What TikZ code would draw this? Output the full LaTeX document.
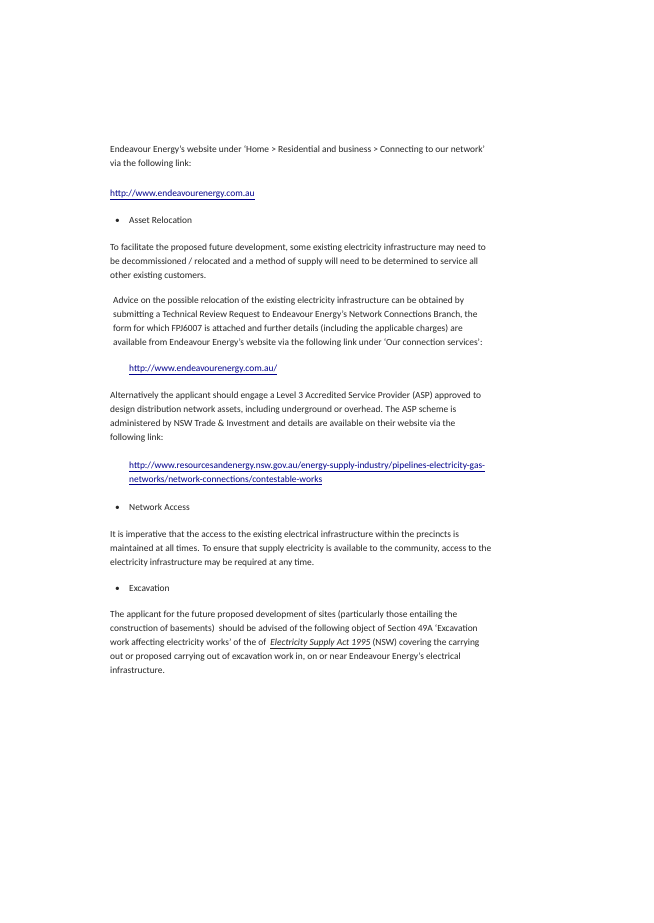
\documentclass[tikz,border=0pt]{standalone}
\usepackage{fontspec}
\setmainfont{Carlito}
\begin{document}
\begin{tikzpicture}[x=1pt,y=-1pt,
  t/.style={anchor=base west,inner sep=0pt,font=\fontsize{9.4}{11}\selectfont,text=black!85},
  lk/.style={t,text=blue!55!black}]
\useasboundingbox[fill=white] (0,0) rectangle (653,923);
\node[t] (l1) at (110,152) {Endeavour Energy’s website under ‘Home > Residential and business > Connecting to our network’};
\node[t] (l2) at (110,166) {via the following link:};
\node[lk] (k1) at (110,196) {\underline{http://www.endeavourenergy.com.au}};
\node[t] (b1d) at (115,223) {\textbullet};
\node[t] (b1) at (129,223) {Asset Relocation};
\node[t] (p1a) at (110,250) {To facilitate the proposed future development, some existing electricity infrastructure may need to};
\node[t] (p1b) at (110,264) {be decommissioned / relocated and a method of supply will need to be determined to service all};
\node[t] (p1c) at (110,278) {other existing customers.};
\node[t] (p2a) at (113,303) {Advice on the possible relocation of the existing electricity infrastructure can be obtained by};
\node[t] (p2b) at (113,317) {submitting a Technical Review Request to Endeavour Energy’s Network Connections Branch, the};
\node[t] (p2c) at (113,331) {form for which FPJ6007 is attached and further details (including the applicable charges) are};
\node[t] (p2d) at (113,345) {available from Endeavour Energy’s website via the following link under ‘Our connection services’:};
\node[lk] (k2) at (129,371) {\underline{http://www.endeavourenergy.com.au/}};
\node[t] (p3a) at (110,398) {Alternatively the applicant should engage a Level 3 Accredited Service Provider (ASP) approved to};
\node[t] (p3b) at (110,412) {design distribution network assets, including underground or overhead. The ASP scheme is};
\node[t] (p3c) at (110,426) {administered by NSW Trade \& Investment and details are available on their website via the};
\node[t] (p3d) at (110,440) {following link:};
\node[lk] (k3a) at (129,468) {\underline{http://www.resourcesandenergy.nsw.gov.au/energy-supply-industry/pipelines-electricity-gas-}};
\node[lk] (k3b) at (129,482) {\underline{networks/network-connections/contestable-works}};
\node[t] (b2d) at (115,510) {\textbullet};
\node[t] (b2) at (129,510) {Network Access};
\node[t] (p4a) at (110,537) {It is imperative that the access to the existing electrical infrastructure within the precincts is};
\node[t] (p4b) at (110,551) {maintained at all times. To ensure that supply electricity is available to the community, access to the};
\node[t] (p4c) at (110,565) {electricity infrastructure may be required at any time.};
\node[t] (b3d) at (115,591) {\textbullet};
\node[t] (b3) at (129,591) {Excavation};
\node[t] (p5a) at (110,617) {The applicant for the future proposed development of sites (particularly those entailing the};
\node[t] (p5b) at (110,631) {construction of basements)\ \ should be advised of the following object of Section 49A ‘Excavation};
\node[t] (p5c) at (110,645) {work affecting electricity works’ of the of\ \ \underline{\textit{Electricity Supply Act 1995}} (NSW) covering the carrying};
\node[t] (p5d) at (110,659) {out or proposed carrying out of excavation work in, on or near Endeavour Energy’s electrical};
\node[t] (p5e) at (110,673) {infrastructure.};
\end{tikzpicture}
\end{document}
